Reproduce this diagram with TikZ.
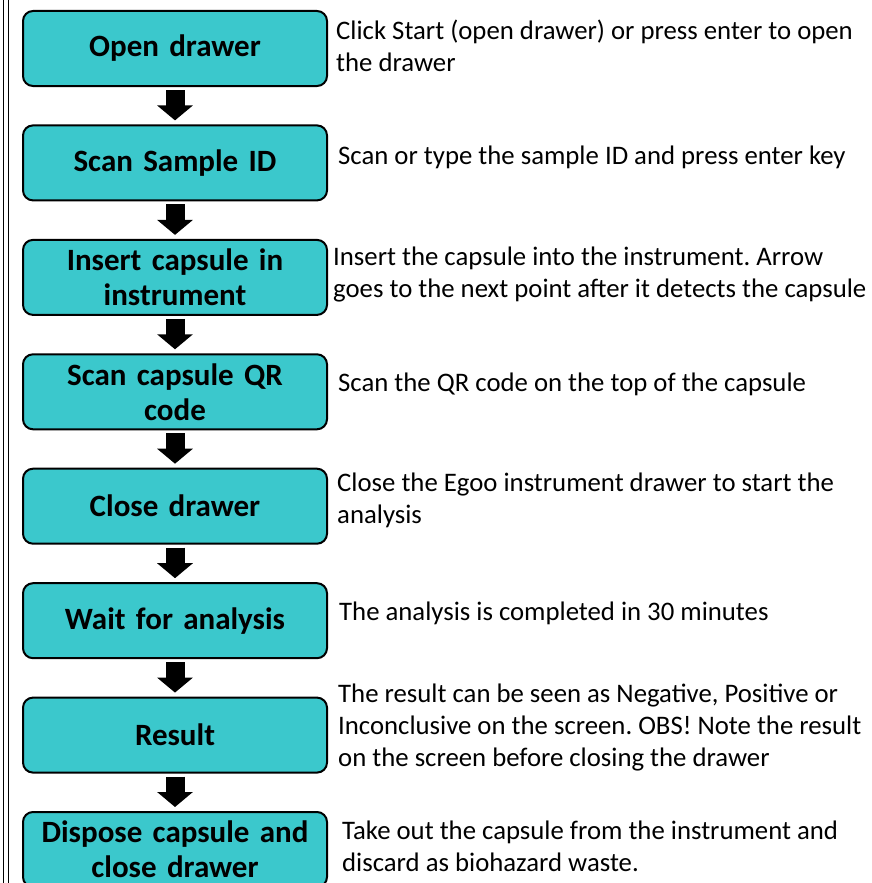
\documentclass[tikz,border=0pt]{standalone}
\usepackage{fontspec}
\setmainfont{Carlito}
\usepackage{xcolor}
\usetikzlibrary{arrows.meta,positioning,shapes,calc}
\definecolor{stepcyan}{RGB}{59,200,204}
\frenchspacing

\tikzset{
  stepbox/.style = {draw, line width=2pt, fill=stepcyan, rounded corners=10pt,
    minimum width=304pt, minimum height=75pt, text width=296pt, align=center,
    inner sep=0pt, font=\fontsize{31}{35}\selectfont\bfseries},
  note/.style = {anchor=west, inner sep=0pt, align=left,
    font=\fontsize{26.75}{32}\selectfont},
  flow/.style = {line width=19pt, -{Triangle[length=15pt, width=35pt]},
    shorten <=3pt, shorten >=4pt}
}

\begin{document}
\begin{tikzpicture}[x = 1pt, y = -1pt]
\useasboundingbox (0,0) rectangle (871,883);
% double rule on the left
\draw[line width=1.3pt] (3.3,0) -- (3.3,883);
\draw[line width=1.3pt] (8.6,0) -- (8.6,883);

% steps
\node[stepbox] (open) at (175,48.5) {Open drawer};
\node[stepbox] (sample) at (175,162.9) {Scan Sample ID};
\node[stepbox] (insert) at (175,277.4) {Insert capsule in\\instrument};
\node[stepbox] (qr) at (175,391.8) {Scan capsule QR\\code};
\node[stepbox] (close) at (175,506.2) {Close drawer};
\node[stepbox] (wait) at (175,620.7) {Wait for analysis};
\node[stepbox] (result) at (175,735.1) {Result};
\node[stepbox] (dispose) at (175,849.5) {Dispose capsule and\\close drawer};

% notes
\node[note] (opentxt) at (336,46) {Click Start (open drawer) or press enter to open\\the drawer};
\node[note] (sampletxt) at (338,157) {Scan or type the sample ID and press enter key};
\node[note] (inserttxt) at (333,275) {Insert the capsule into the instrument. Arrow\\goes to the next point after it detects the capsule};
\node[note] (qrtxt) at (338,384) {Scan the QR code on the top of the capsule};
\node[note] (closetxt) at (337,500) {Close the Egoo instrument drawer to start the\\analysis};
\node[note] (waittxt) at (339,613) {The analysis is completed in 30 minutes};
\node[note] (resulttxt) at (338,728) {The result can be seen as Negative, Positive or\\Inconclusive on the screen. OBS! Note the result\\on the screen before closing the drawer};
\node[note] (disposetxt) at (342,846) {Take out the capsule from the instrument and\\discard as biohazard waste.};

% arrows
\draw[flow] (open) -- (sample);
\draw[flow] (sample) -- (insert);
\draw[flow] (insert) -- (qr);
\draw[flow] (qr) -- (close);
\draw[flow] (close) -- (wait);
\draw[flow] (wait) -- (result);
\draw[flow] (result) -- (dispose);
\end{tikzpicture}
\end{document}
